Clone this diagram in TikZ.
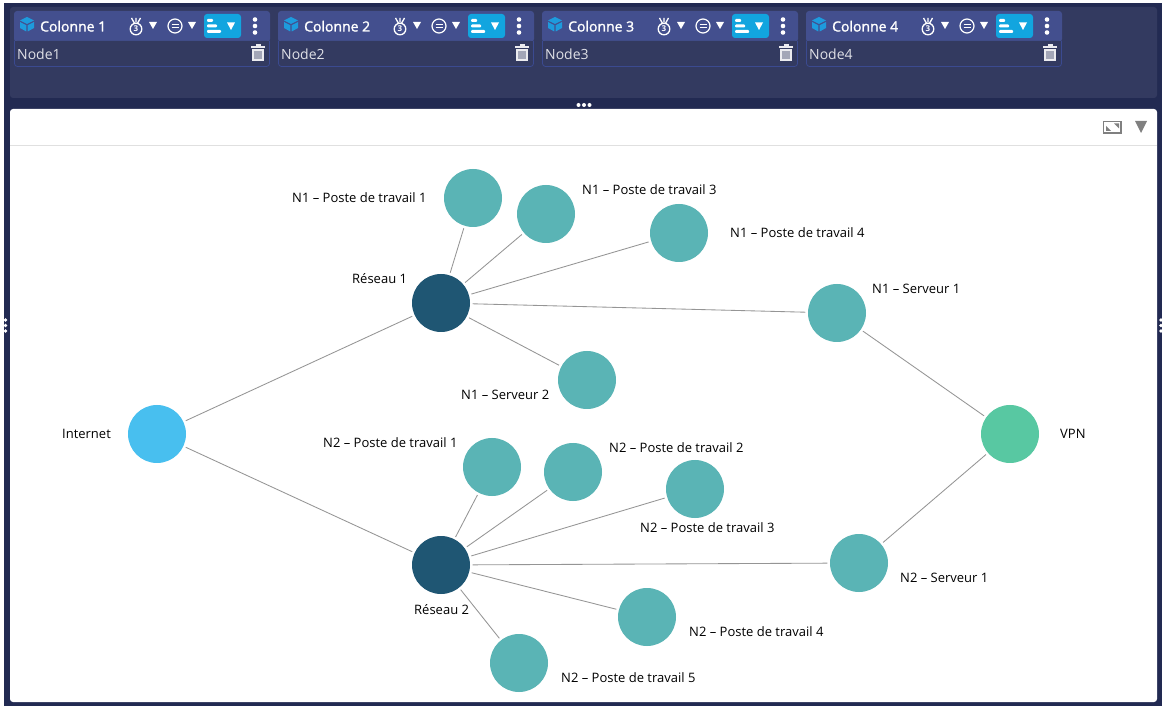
\documentclass[tikz,border=0pt]{standalone}
\usepackage{fontspec}
\setmainfont{Open Sans}
\newfontfamily\titlefont[FakeBold=1.5]{Open Sans}
\definecolor{bgdark}{HTML}{222A52}
\definecolor{panel}{HTML}{333A60}
\definecolor{headc}{HTML}{434F8E}
\definecolor{edgec}{HTML}{3B4A90}
\definecolor{accent}{HTML}{12A5DF}
\definecolor{cubec}{HTML}{1E9BDD}
\definecolor{teal}{HTML}{5AB4B5}
\definecolor{navy}{HTML}{1F5673}
\definecolor{sky}{HTML}{48BFEF}
\definecolor{mint}{HTML}{58C8A2}
\definecolor{linec}{HTML}{959595}
\definecolor{iconc}{HTML}{808080}
\tikzset{
  x=1pt,y=-1pt,
  vertex/.style={circle,minimum size=58pt,inner sep=0pt,outer sep=2.6pt},
  leafv/.style={vertex,fill=teal},
  hubv/.style={vertex,fill=navy},
  link/.style={draw=linec,line width=0.85pt},
  lab/.style={anchor=base west,inner sep=0pt,font=\fontsize{13}{15}\selectfont,text=black},
  coltitle/.style={anchor=base west,inner sep=0pt,text=white,font=\fontsize{14}{16}\titlefont},
  nodetxt/.style={anchor=base west,inner sep=0pt,text=white!85!panel,font=\fontsize{14}{16}\selectfont},
  tri/.style={fill=white,draw=none},
}
\begin{document}
\begin{tikzpicture}
\useasboundingbox (0,0) rectangle (1165,708);
\fill[white] (0,0) rectangle (1165,708);
\fill[bgdark] (4,3) rectangle (1162,706);
\fill[panel,rounded corners=3pt] (10,7) rectangle (1157,98);
% handles
\foreach \hx/\hy in {578.5/105,584/105,589.5/105}{\fill[white] (\hx,\hy) circle (2);}
\foreach \hy in {320,325.5,331}{\fill[white] (5.5,\hy) circle (1.9); \fill[white] (1161,\hy) circle (1.9);}
% white area
\fill[white,rounded corners=3pt] (10,109) rectangle (1157,702);
\draw[black!12,line width=1pt] (10,145.5) -- (1157,145.5);
% expand icon
\draw[iconc,line width=1.2pt,fill=white] (1103.5,121.5) rectangle (1121,133);
\fill[iconc] (1106,131) -- (1106,126) -- (1111,131) -- cycle;
\fill[iconc] (1119,123.5) -- (1119,128.5) -- (1114,123.5) -- cycle;
\fill[iconc] (1135,121) -- (1147,121) -- (1141,133) -- cycle;
% columns
\foreach \n/\ox in {1/0,2/264,3/528,4/792}{
\begin{scope}[shift={(\ox,0)}]
  \fill[headc,rounded corners=3pt] (14,11) rectangle (270,42);
  \fill[panel,rounded corners=3pt] (14,41) rectangle (270,66.5);
  \fill[panel] (14.8,41) rectangle (269.2,60);
  \draw[edgec,line width=0.8pt,rounded corners=3pt] (14.5,41) -- (14.5,66.5) -- (269.5,66.5) -- (269.5,41);
  % cube
  \fill[cubec] (27,17) -- (34,20.5) -- (27,24) -- (20,20.5) -- cycle;
  \fill[cubec] (20,22) -- (26.3,25.2) -- (26.3,31.5) -- (20,28) -- cycle;
  \fill[cubec] (34,22) -- (27.7,25.2) -- (27.7,31.5) -- (34,28) -- cycle;
  \node[coltitle] (title\n) at (40,31.5) {Colonne \n};
  % medal
  \draw[white,line width=1.3pt] (136,29) circle (5.8);
  \draw[white,line width=1.3pt] (131.5,18) -- (134.5,23.3) (140.5,18) -- (137.5,23.3) (136,18) -- (136,22.5);
  \node[inner sep=0pt,text=white,font=\fontsize{8}{9}\selectfont\bfseries] (medal\n) at (136,29) {3};
  \fill[tri] (149,22) -- (157,22) -- (153,29) -- cycle;
  % equal circle
  \draw[white,line width=1.2pt] (175,26) circle (7);
  \draw[white,line width=1.2pt] (171.5,24.3) -- (178.5,24.3) (171.5,27.7) -- (178.5,27.7);
  \fill[tri] (188,22) -- (196,22) -- (192,29) -- cycle;
  % sort button
  \fill[accent,rounded corners=3pt] (204,14) rectangle (241,38);
  \fill[white,rounded corners=1pt] (207,19) rectangle (213,22);
  \fill[white,rounded corners=1pt] (207,24.5) rectangle (217,27.5);
  \fill[white,rounded corners=1pt] (207,30) rectangle (221,33);
  \fill[tri] (227,22.5) -- (235,22.5) -- (231,30) -- cycle;
  % dots
  \foreach \dy in {19.5,26,32.5}{\fill[white] (255,\dy) circle (2.3);}
  \node[nodetxt] (nodename\n) at (17,59.5) {Node\n};
  % trash
  \fill[white!90!panel] (255.5,44.5) rectangle (260.5,46.2);
  \fill[white!90!panel] (251,46.2) rectangle (265,48);
  \fill[white!90!panel] (252,49) rectangle (264,61);
  \fill[white!55!panel] (254,51) rectangle (262,59);
\end{scope}}
% graph
\node[vertex,fill=sky] (inet) at (157,434) {};
\node[hubv] (r1) at (441,303) {};
\node[hubv] (r2) at (441,565) {};
\node[vertex,fill=mint] (vpn) at (1010,434) {};
\node[leafv] (a1) at (473,198) {};
\node[leafv] (a3) at (546,214) {};
\node[leafv] (a4) at (679,233) {};
\node[leafv] (as1) at (837,313) {};
\node[leafv] (as2) at (587,380) {};
\node[leafv] (b1) at (492,467) {};
\node[leafv] (b2) at (573,472) {};
\node[leafv] (b3) at (695,489) {};
\node[leafv] (bs1) at (859,563) {};
\node[leafv] (b4) at (647,617) {};
\node[leafv] (b5) at (519,663) {};
\foreach \p/\q in {inet/r1,inet/r2,r1/a1,r1/a3,r1/a4,r1/as1,r1/as2,as1/vpn,r2/b1,r2/b2,r2/b3,r2/bs1,r2/b4,r2/b5,bs1/vpn}{
  \path[link] (\p) -- (\q);
}
\node[lab] (l1) at (292,202.5) {N1 – Poste de travail 1};
\node[lab] (l2) at (582,194.5) {N1 – Poste de travail 3};
\node[lab] (l3) at (730,237.5) {N1 – Poste de travail 4};
\node[lab] (l4) at (352,283.5) {Réseau 1};
\node[lab] (l5) at (872,293.5) {N1 – Serveur 1};
\node[lab] (l6) at (461,399.5) {N1 – Serveur 2};
\node[lab] (l7) at (62,438.5) {Internet};
\node[lab] (l8) at (1060,438.5) {VPN};
\node[lab] (l9) at (323,447.5) {N2 – Poste de travail 1};
\node[lab] (l10) at (609,452.5) {N2 – Poste de travail 2};
\node[lab] (l11) at (640,532.5) {N2 – Poste de travail 3};
\node[lab] (l12) at (900,582.5) {N2 – Serveur 1};
\node[lab] (l13) at (414,614.5) {Réseau 2};
\node[lab] (l14) at (689,636.5) {N2 – Poste de travail 4};
\node[lab] (l15) at (561,682.5) {N2 – Poste de travail 5};
\end{tikzpicture}
\end{document}
